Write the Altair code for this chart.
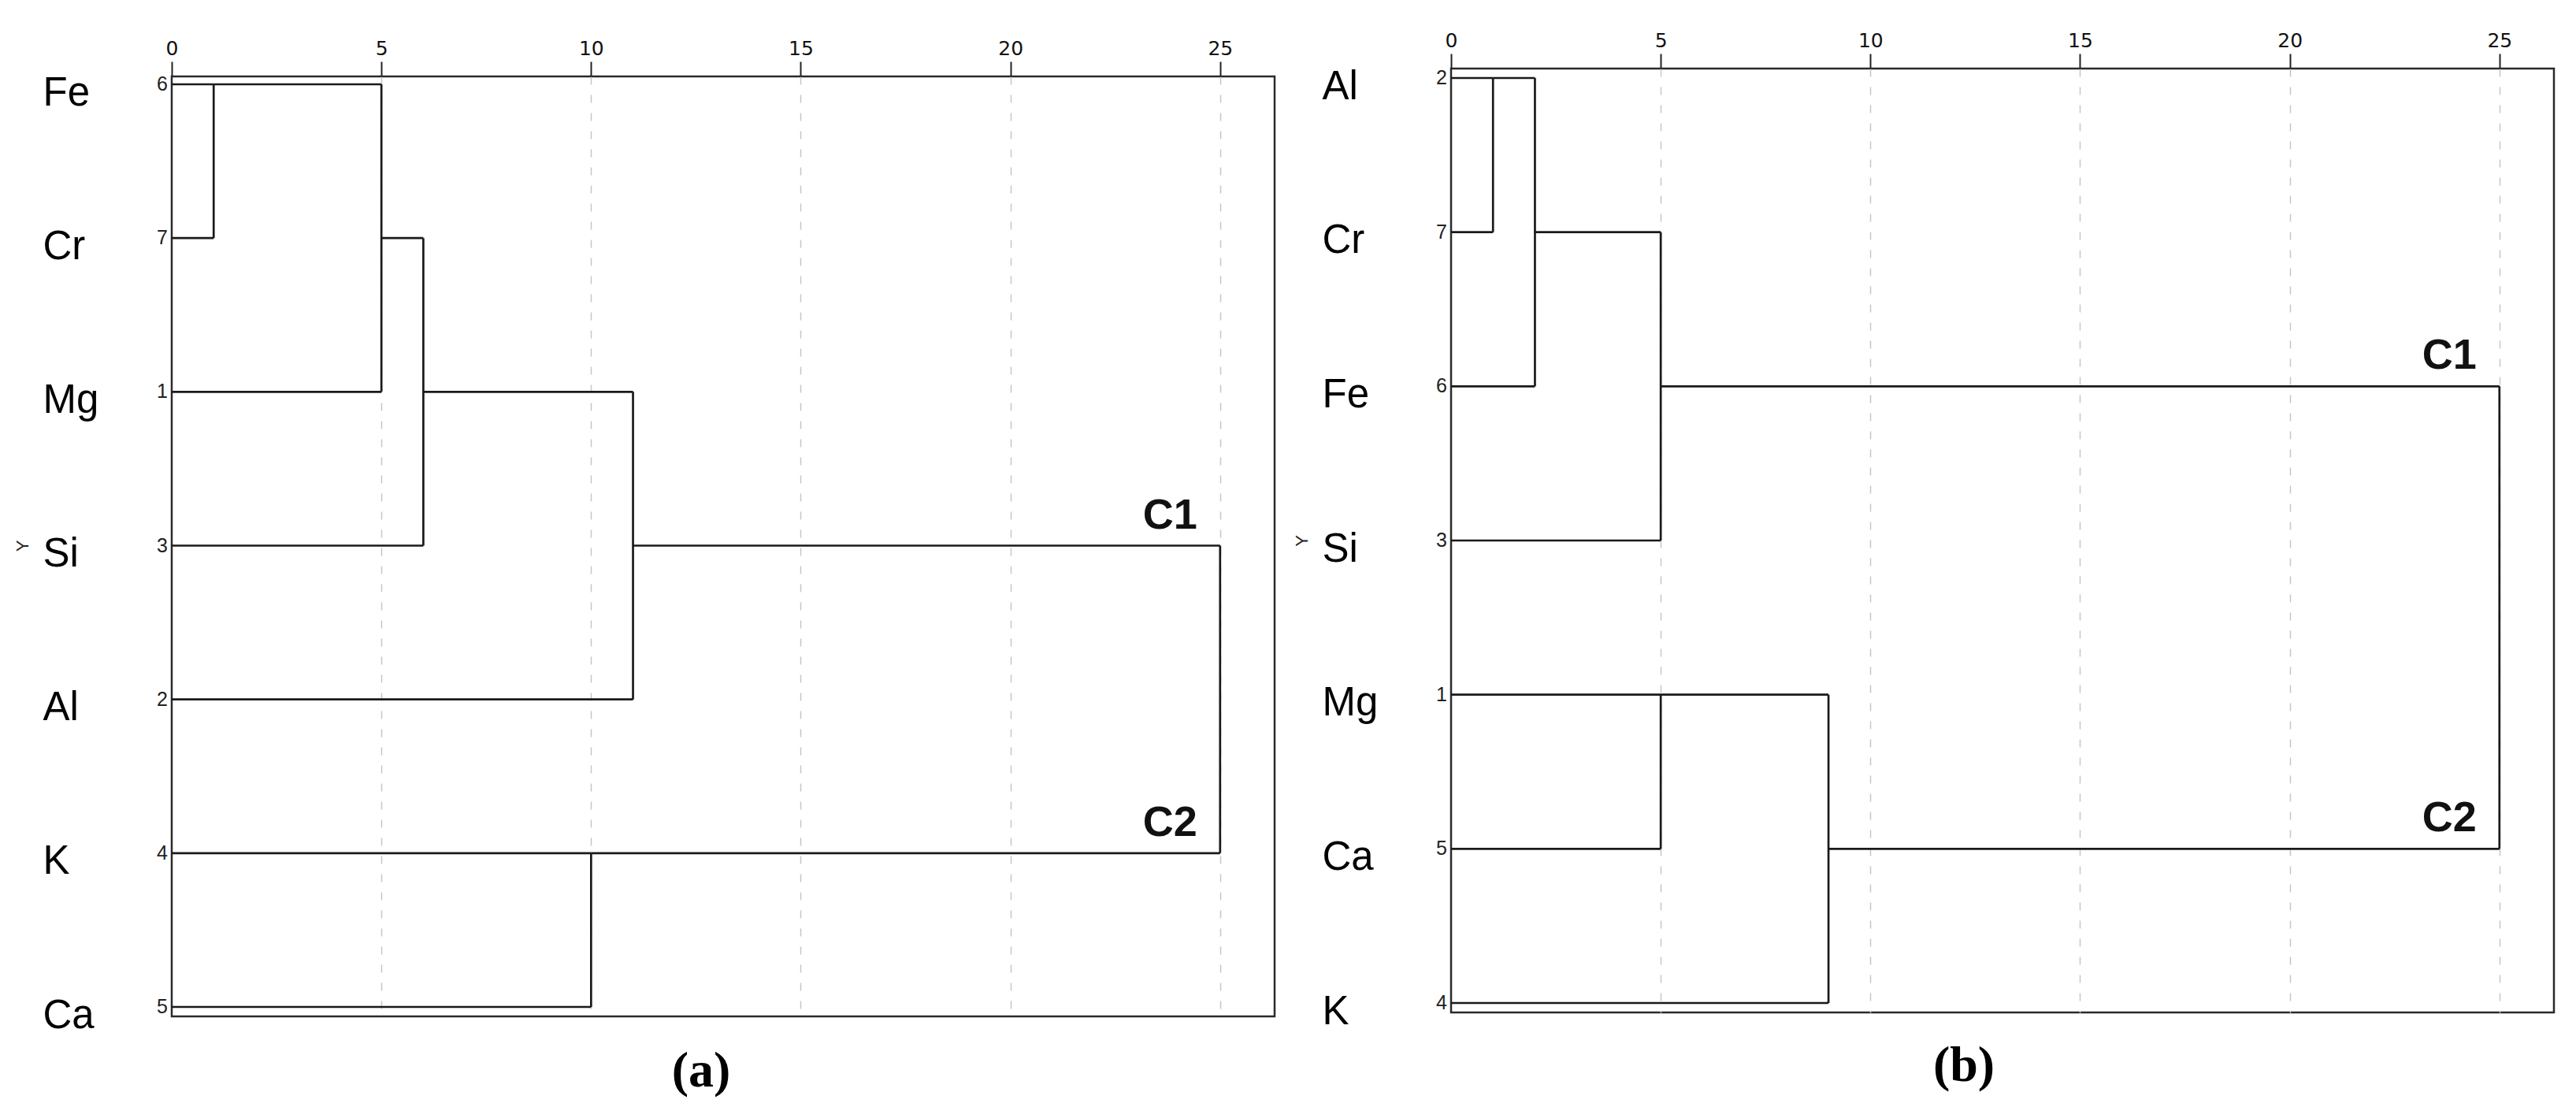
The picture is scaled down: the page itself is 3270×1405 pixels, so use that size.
import math
import altair as alt
import pandas as pd

# ---------------- data ----------------
# panel (a)
a_leaves = ["Fe", "Cr", "Mg", "Si", "Al", "K", "Ca"]
a_case_ids = [6, 7, 1, 3, 2, 4, 5]
# merges: (node i, node j, rescaled distance); leaves are 0..6, new nodes 7, 8, ...
a_merges = [(0, 1, 1.0), (7, 2, 5.0), (8, 3, 6.0), (9, 4, 11.0), (5, 6, 10.0), (10, 11, 25.0)]
a_clusters = {10: "C1", 11: "C2"}

# panel (b)
b_leaves = ["Al", "Cr", "Fe", "Si", "Mg", "Ca", "K"]
b_case_ids = [2, 7, 6, 3, 1, 5, 4]
b_merges = [(0, 1, 1.0), (7, 2, 2.0), (8, 3, 5.0), (4, 5, 5.0), (10, 6, 9.0), (9, 11, 25.0)]
b_clusters = {9: "C1", 11: "C2"}

x_ticks = [0, 5, 10, 15, 20, 25]


def dendro_segments(n_leaves, merges):
    ypos = {i: float(i) for i in range(n_leaves)}
    start = {i: 0.0 for i in range(n_leaves)}
    rows = []
    for k, (i, j, d) in enumerate(merges):
        node = n_leaves + k
        for c in (i, j):
            rows.append(dict(x=start[c], x2=d, y=ypos[c], y2=ypos[c]))
        rows.append(dict(x=d, x2=d, y=ypos[i], y2=ypos[j]))
        ypos[node] = math.floor((ypos[i] + ypos[j]) / 2)
        start[node] = d
    return rows, ypos


def panel(leaves, ids, merges, clusters, caption, cap_dx, cap_offset, height, top_gap, bottom_gap):
    rows, ypos = dendro_segments(len(leaves), merges)
    seg = pd.DataFrame(rows)
    top_d = merges[-1][2]
    clab = pd.DataFrame([dict(x=top_d, y=ypos[n], label=t) for n, t in clusters.items()])
    nums = pd.DataFrame(dict(x=[0.0] * len(ids), y=list(range(len(ids))), label=[str(v) for v in ids]))

    n = len(leaves)
    step = (height - top_gap - bottom_gap) / (n - 1)
    ydom = [-top_gap / step, (n - 1) + bottom_gap / step]

    xscale = alt.Scale(domain=[0, 26.3], nice=False, zero=False)
    yscale = alt.Scale(domain=ydom, reverse=True, nice=False, zero=False)
    names_js = "[" + ",".join("'%s'" % s for s in leaves) + "]"

    xaxis = alt.Axis(
        orient="top", values=x_ticks, domain=False, grid=True, title=None,
        gridDash=[10, 13], gridColor="#c6c6c6", gridWidth=1.5,
        gridOpacity={"condition": {"test": "datum.value === 0", "value": 0}, "value": 1},
        ticks=True, tickSize=19, tickWidth=2, tickColor="#222",
        labelFont="DejaVu Sans", labelFontSize=25, labelColor="#111", labelPadding=4,
        labelFlush=False, labelOverlap=False,
    )
    yaxis = alt.Axis(
        values=list(range(n)), labelExpr=names_js + "[datum.value]",
        domain=False, ticks=False, tickSize=0, grid=False,
        labelFont="Liberation Sans", labelFontSize=51, labelColor="#000",
        labelAlign="left", labelBaseline="alphabetic", labelPadding=164, labelOffset=26,
        labelOverlap=False, labelFlush=False, labelBound=False,
        title="Y", titleFont="Liberation Sans", titleFontSize=22, titleFontWeight="normal",
        titleColor="#222", titleAngle=270, titleX=-190, titleY=top_gap + 3 * step,
        titleAlign="center", titleBaseline="middle",
    )

    X = alt.X("x:Q", scale=xscale, axis=xaxis)
    Y = alt.Y("y:Q", scale=yscale, axis=yaxis)

    lines = alt.Chart(seg).mark_rule(color="#1a1a1a", strokeWidth=2.7).encode(
        x=X, x2="x2:Q", y=Y, y2="y2:Q"
    )
    numbers = alt.Chart(nums).mark_text(
        align="right", baseline="middle", dx=-5, font="Liberation Sans",
        fontSize=25, color="#222"
    ).encode(x=X, y=Y, text="label:N")
    clabels = alt.Chart(clab).mark_text(
        align="right", baseline="alphabetic", dx=-29, dy=-22, font="Liberation Sans",
        fontSize=54, fontWeight="bold", color="#111"
    ).encode(x=X, y=Y, text="label:N")

    return alt.layer(lines, numbers, clabels).properties(
        width=1400, height=height,
        title=alt.Title(caption, orient="bottom", anchor="middle", font="Liberation Serif",
                        fontSize=64, fontWeight="bold", color="#000", offset=cap_offset, dx=cap_dx),
    )


def spacer(h):
    return alt.Chart(pd.DataFrame({"v": [0]})).mark_point(size=0, opacity=0).encode(
        x=alt.value(0), y=alt.value(0)
    ).properties(width=1400, height=h, view=alt.ViewBackground(stroke="transparent"))


pa = panel(a_leaves, a_case_ids, a_merges, a_clusters, "(a)", -28, 14, 1193, 10, 12)
pb = panel(b_leaves, b_case_ids, b_merges, b_clusters, "(b)", -49, 12, 1198, 12, 12)

left = alt.vconcat(spacer(11), pa, spacing=0)
right = alt.vconcat(spacer(1), pb, spacing=0)

chart = alt.hconcat(left, right, spacing=19).properties(
    padding={"left": 7, "top": 24, "right": 5, "bottom": 5}
).configure(background="white").configure_view(stroke="#2a2a2a", strokeWidth=2.5)

chart.save("out.html", embed_options={"renderer": "svg", "actions": False})
